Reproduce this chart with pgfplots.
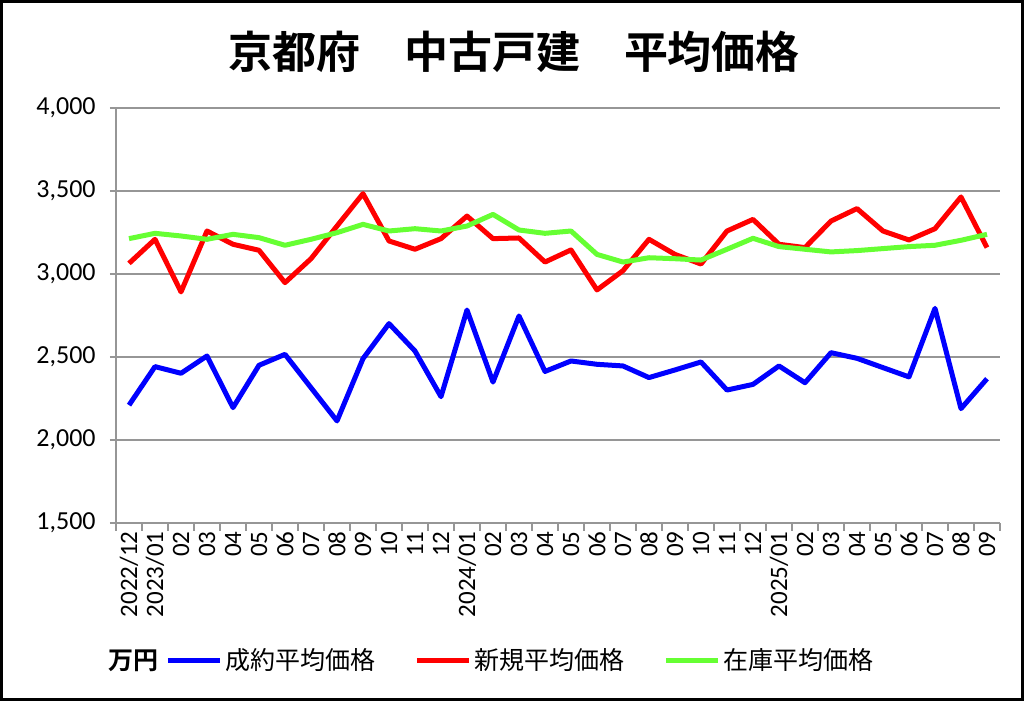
\documentclass[border=0pt]{standalone}
\usepackage{fontspec}
\setmainfont{Carlito}
\newfontfamily\cjk{Noto Sans CJK JP}
\newfontfamily\cjkb{Noto Sans CJK JP Bold}
\usepackage{pgfplots}
\pgfplotsset{compat=1.18}
\definecolor{cblue}{RGB}{0,0,255}
\definecolor{cred}{RGB}{255,0,0}
\definecolor{cgreen}{RGB}{102,255,51}
\definecolor{gridgray}{RGB}{150,150,150}
\begin{document}
\begin{tikzpicture}
\useasboundingbox (0,0) rectangle (512pt,350.5pt);
\draw[line width=1.5pt] (0.75pt,0.75pt) rectangle (511.25pt,349.75pt);
\node[font=\cjkb\fontsize{22pt}{26pt}\selectfont] at (257pt,324.5pt) {京都府　中古戸建　平均価格};
\begin{axis}[
  scale only axis, width=442pt, height=207.5pt,
  at={(58pt,89pt)}, anchor=south west,
  xmin=-0.5, xmax=33.5, ymin=1500, ymax=4000,
  ytick={1500,2000,...,4000},
  ymajorgrids, grid style={gridgray, line width=0.8pt},
  axis x line*=bottom, axis y line*=left,
  axis line style={gridgray, line width=0.8pt, -},
  xtick={0,...,33},
  xticklabels={2022/12,2023/01,02,03,04,05,06,07,08,09,10,11,12,2024/01,02,03,04,05,06,07,08,09,10,11,12,2025/01,02,03,04,05,06,07,08,09},
  minor xtick={-0.5,0.5,...,33.5},
  tick align=outside,
  major x tick style={draw=none},
  minor x tick style={draw=gridgray, line width=0.8pt},
  major y tick style={draw=gridgray, line width=0.8pt},
  minor tick length=4pt, major tick length=3pt,
  xticklabel style={rotate=90, anchor=east, font=\fontsize{12.5pt}{14pt}\selectfont, inner sep=1pt},
  yticklabel style={font=\fontsize{13pt}{15pt}\selectfont, /pgf/number format/1000 sep={,}, inner sep=1pt, xshift=-6pt},
  /pgf/number format/assume math mode=true,
  legend columns=4,
  legend style={at={(-0.0124,-0.3325)}, anchor=west, draw=none, fill=none, inner sep=0pt,
    font=\cjk\fontsize{12.5pt}{14pt}\selectfont,
    nodes={inner sep=1.5pt},
    /tikz/every odd column/.style={column sep=0pt},
    /tikz/every even column/.style={column sep=18pt}},
  legend image code/.code={\draw[#1, line width=2.5pt] (0pt,0pt) -- (26pt,0pt);},
]
\addlegendimage{empty legend}
\addlegendentry{\cjkb 万円\hspace*{-16pt}}
\addplot[cblue, line width=2.5pt, line join=round, mark=none] coordinates {
(0,2210)(1,2442)(2,2402)(3,2506)(4,2195)(5,2450)(6,2516)(7,2315)(8,2115)(9,2490)
(10,2701)(11,2536)(12,2261)(13,2783)(14,2349)(15,2747)(16,2413)(17,2476)(18,2456)(19,2446)
(20,2376)(21,2422)(22,2470)(23,2301)(24,2335)(25,2446)(26,2345)(27,2526)(28,2492)(29,2436)
(30,2380)(31,2793)(32,2189)(33,2369)};
\addlegendentry{成約平均価格}
\addplot[cred, line width=2.5pt, line join=round, mark=none] coordinates {
(0,3064)(1,3209)(2,2892)(3,3259)(4,3179)(5,3143)(6,2948)(7,3092)(8,3289)(9,3484)
(10,3199)(11,3149)(12,3213)(13,3349)(14,3213)(15,3217)(16,3072)(17,3145)(18,2904)(19,3020)
(20,3209)(21,3118)(22,3060)(23,3259)(24,3329)(25,3179)(26,3159)(27,3319)(28,3394)(29,3259)
(30,3205)(31,3273)(32,3464)(33,3159)};
\addlegendentry{新規平均価格}
\addplot[cgreen, line width=2.5pt, line join=round, mark=none] coordinates {
(0,3213)(1,3245)(2,3229)(3,3209)(4,3239)(5,3219)(6,3173)(7,3209)(8,3249)(9,3299)
(10,3259)(11,3273)(12,3259)(13,3289)(14,3359)(15,3265)(16,3245)(17,3259)(18,3118)(19,3072)
(20,3098)(21,3092)(22,3084)(23,3149)(24,3215)(25,3165)(26,3149)(27,3133)(28,3141)(29,3153)
(30,3165)(31,3173)(32,3203)(33,3239)};
\addlegendentry{在庫平均価格}
\end{axis}
\end{tikzpicture}
\end{document}
